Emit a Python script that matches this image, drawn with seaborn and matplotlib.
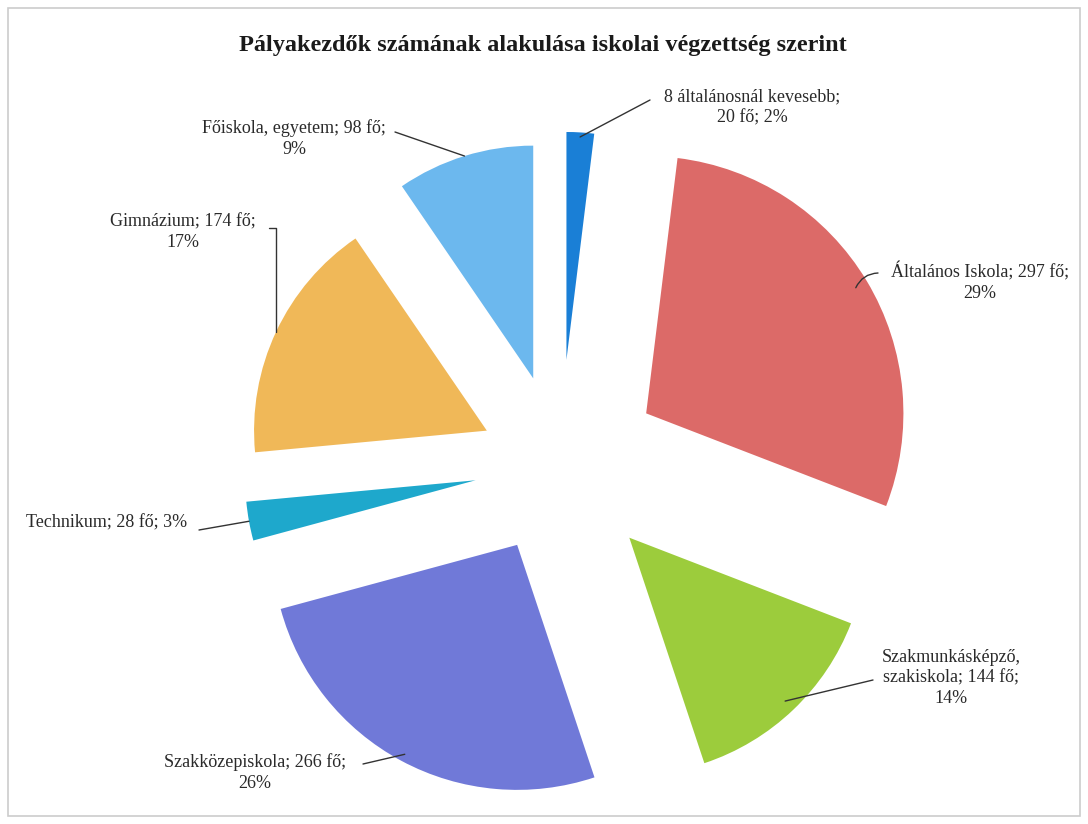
import numpy as np
import matplotlib
matplotlib.use('Agg')
import matplotlib.pyplot as plt
import seaborn as sns
from matplotlib.patches import Rectangle

# data, clockwise from 12 o'clock
categories = ['8 általánosnál kevesebb', 'Általános Iskola', 'Szakmunkásképző,\nszakiskola',
              'Szakközepiskola', 'Technikum', 'Gimnázium', 'Főiskola, egyetem']
counts = [20, 297, 144, 266, 28, 174, 98]
percents = [2, 29, 14, 26, 3, 17, 9]
labels = ['8 általánosnál kevesebb;\n20 fő; 2%',
          'Általános Iskola; 297 fő;\n29%',
          'Szakmunkásképző,\nszakiskola; 144 fő;\n14%',
          'Szakközepiskola; 266 fő;\n26%',
          'Technikum; 28 fő; 3%',
          'Gimnázium; 174 fő;\n17%',
          'Főiskola, egyetem; 98 fő;\n9%']

colors = ['#1a7fd6', '#dc6a68', '#9ccc3c', '#7079d8', '#1ea8cc', '#f0b858', '#6cb8ee']

sns.set_theme(style='white')
plt.rcParams['font.family'] = ['Liberation Serif', 'DejaVu Serif']

W, H = 1088, 824
fig = plt.figure(figsize=(W / 100, H / 100), dpi=100)
ax = fig.add_axes([0, 0, 1, 1])

R = 245.0          # pie radius in px
cx, cy = 560, 465  # pie centre in px (from top)

# the original is a slightly tilted 3D pie, so slices differ a bit in size
explode = [0.43, 0.41, 0.41, 0.37, 0.35, 0.33, 0.37]
radii = [0.93, 1.05, 0.97, 1.0, 0.94, 0.95, 0.95]

wedges, _ = ax.pie(counts, colors=colors, startangle=90, counterclock=False,
                   explode=explode, radius=1.0, wedgeprops=dict(linewidth=0))
for w, rr in zip(wedges, radii):
    w.set_radius(rr)

ax.set_xlim(-cx / R, (W - cx) / R)
ax.set_ylim(-(H - cy) / R, cy / R)
ax.set_aspect('auto')
ax.axis('off')


def fig_frac(px, py):
    return (px / W, 1 - py / H)


# label text centres (px from top-left)
label_pos = [(752, 107), (980, 282), (951, 678), (255, 773), (107, 523), (183, 232), (294, 139)]
# where the leader line leaves the text
line_start = [(650, 100), (878, 273), (873, 680), (363, 764), (199, 530), (269, 228), (395, 132)]
anchor_frac = [0.98, 0.95, 0.95, 0.97, 1.0, 1.0, 1.0]
conn = ['arc3', 'arc3,rad=0.3', 'arc3', 'arc3', 'arc3',
        'angle,angleA=0,angleB=90,rad=0', 'arc3']

for w, lab, (tx, ty), (lx, ly), fr, cs in zip(wedges, labels, label_pos, line_start,
                                               anchor_frac, conn):
    ang = np.deg2rad((w.theta1 + w.theta2) / 2)
    x0, y0 = w.center
    ax_pt = (x0 + fr * w.r * np.cos(ang), y0 + fr * w.r * np.sin(ang))
    ax.annotate('', xy=ax_pt, xycoords='data',
                xytext=fig_frac(lx, ly), textcoords='figure fraction',
                arrowprops=dict(arrowstyle='-', color='#333333', lw=1.0,
                                shrinkA=0, shrinkB=0, connectionstyle=cs))
    fig.text(*fig_frac(tx, ty), lab, ha='center', va='center', fontsize=13,
             color='#2a2a2a', linespacing=1.3)

fig.text(543 / W, 1 - 45 / H, 'Pályakezdők számának alakulása iskolai végzettség szerint',
         ha='center', va='center', fontsize=17.5, fontweight='bold', color='#1a1a1a')

fig.patches.append(Rectangle((8 / W, 8 / H), 1 - 16 / W, 1 - 16 / H, transform=fig.transFigure,
                             fill=False, edgecolor='#cccccc', lw=1.2))

fig.savefig('out.png', dpi=100, facecolor='white')
